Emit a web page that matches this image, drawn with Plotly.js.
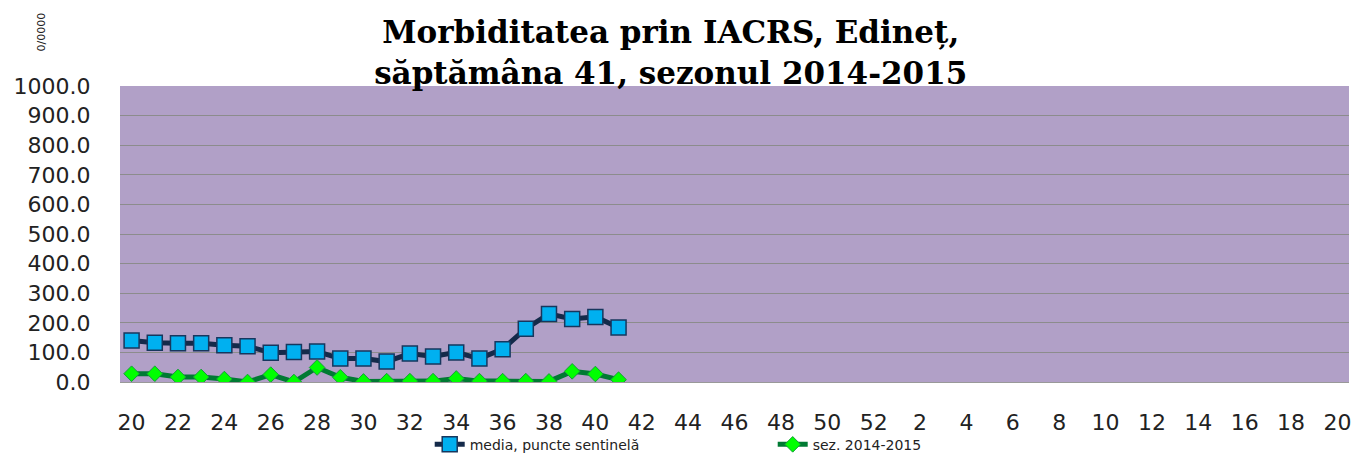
<!DOCTYPE html>
<html>
<head>
<meta charset="utf-8">
<script src="https://cdn.plot.ly/plotly-3.0.1.min.js"></script>
<style>html,body{margin:0;padding:0;background:#fff;}#chart{width:1355px;height:456px;}</style>
</head>
<body>
<div id="chart"></div>
<script>
// Week labels of the season (week 20 .. 52, then 1 .. 20)
const weeks = [20,21,22,23,24,25,26,27,28,29,30,31,32,33,34,35,36,37,38,39,40,41,42,43,44,45,46,47,48,49,50,51,52,
               1,2,3,4,5,6,7,8,9,10,11,12,13,14,15,16,17,18,19,20];
// media, puncte sentinelă (weeks 20..41)
const mediaValues = [140,133,131,131,124,121,99,101,103,79,79,69,96,86,100,79,111,180,230,213,220,184];
// sez. 2014-2015 (weeks 20..41)
const sezonValues = [28,28,17,17,10,0,25,0,49,16,2,3,3,3,12,3,3,3,2,36,27,8];
const seriesNames = ["media, puncte sentinelă", "sez. 2014-2015"];
const titleText = "<b>Morbiditatea prin IACRS, Edineț,<br>săptămâna 41, sezonul 2014-2015</b>";
const yUnit = "0/0000";

const idx = weeks.map((w, i) => i);
const tickIdx = idx.filter(i => i % 2 === 0);
const tickTxt = tickIdx.map(i => String(weeks[i]));

const traces = [
  {
    x: idx.slice(0, mediaValues.length), y: mediaValues, name: seriesNames[0],
    type: 'scatter', mode: 'lines+markers',
    line: {color: '#142a4a', width: 5},
    marker: {symbol: 'square', size: 15, color: '#00b0f0', line: {color: '#17375e', width: 1.5}}
  },
  {
    x: idx.slice(0, sezonValues.length), y: sezonValues, name: seriesNames[1],
    type: 'scatter', mode: 'lines+markers',
    line: {color: '#007a33', width: 5},
    marker: {symbol: 'diamond', size: 12, color: '#00ff00', line: {color: '#169c3a', width: 1}}
  }
];

const layout = {
  width: 1355, height: 456,
  margin: {l: 120, r: 6, t: 86, b: 74, autoexpand: false},
  paper_bgcolor: '#ffffff',
  plot_bgcolor: '#b1a0c7',
  title: {
    text: titleText,
    font: {family: 'DejaVu Serif, serif', size: 31, color: '#000'},
    xref: 'container', x: 0.495, xanchor: 'center',
    yref: 'container', y: 0.905, yanchor: 'middle'
  },
  xaxis: {
    range: [-0.5, weeks.length - 0.5],
    tickmode: 'array', tickvals: tickIdx, ticktext: tickTxt,
    ticks: 'outside', ticklen: 21, tickcolor: 'rgba(0,0,0,0)',
    tickfont: {family: 'DejaVu Sans, sans-serif', size: 22, color: '#222'},
    showgrid: false, zeroline: false,
    showline: true, linecolor: '#999', linewidth: 1
  },
  yaxis: {
    range: [0, 1000], dtick: 100, tickformat: '.1f',
    ticks: 'outside', ticklen: 24, tickcolor: 'rgba(0,0,0,0)',
    tickfont: {family: 'DejaVu Sans, sans-serif', size: 22, color: '#222'},
    showgrid: true, gridcolor: '#8c8c8c', gridwidth: 1,
    zeroline: false, showline: false
  },
  legend: {
    orientation: 'h',
    x: 0.252, xanchor: 'left',
    y: -0.212, yanchor: 'middle',
    entrywidth: 298, entrywidthmode: 'pixels',
    bgcolor: 'rgba(0,0,0,0)',
    font: {family: 'DejaVu Sans, sans-serif', size: 14, color: '#222'}
  },
  annotations: [{
    text: yUnit, xref: 'paper', yref: 'paper', x: -0.064, y: 1.182,
    xanchor: 'center', yanchor: 'middle', showarrow: false, textangle: -90,
    font: {family: 'DejaVu Sans, sans-serif', size: 11, color: '#222'}
  }],
  showlegend: true
};

Plotly.newPlot('chart', traces, layout, {displayModeBar: false, staticPlot: true});
</script>
</body>
</html>
